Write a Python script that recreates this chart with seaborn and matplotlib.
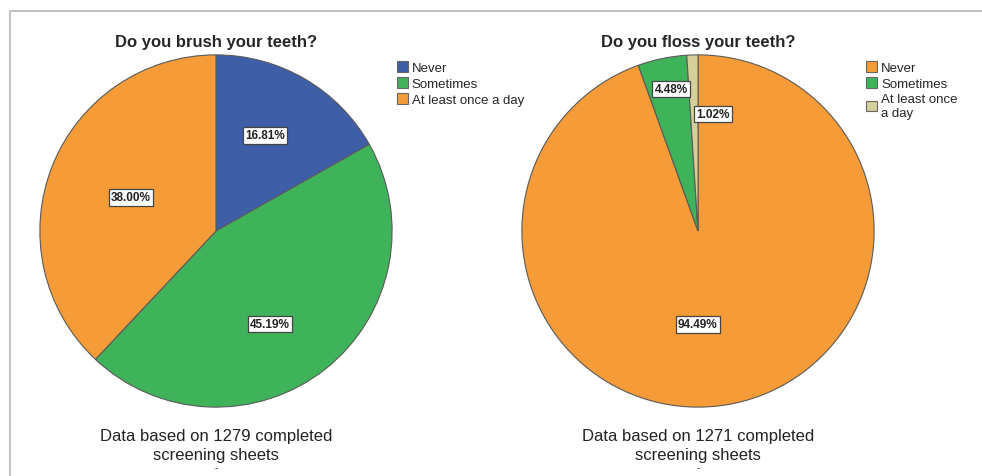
import numpy as np
import matplotlib.pyplot as plt
import seaborn as sns
from matplotlib.lines import Line2D

sns.set_style('white')
plt.rcParams['font.family'] = ['Liberation Sans', 'DejaVu Sans']

# data
categories = ['Never', 'Sometimes', 'At least once a day']
brush_pct = [16.81, 45.19, 38.00]
floss_pct = [94.49, 4.48, 1.02]
brush_colors = ['#3f5ea8', '#3fb35a', '#f59b37']
floss_colors = ['#f59b37', '#3fb35a', '#d5d09a']
titles = ['Do you brush your teeth?', 'Do you floss your teeth?']
notes = ['Data based on 1279 completed\nscreening sheets',
         'Data based on 1271 completed\nscreening sheets']
floss_legend = ['Never', 'Sometimes', 'At least once\na day']

# label placement (radial fraction, angle shift in degrees)
brush_lbl = [(0.61, 3), (0.61, -8), (0.52, 0)]
floss_lbl = [(0.53, -10), (0.82, -1), (0.67, -9)]


def draw_pie(ax, values, colors, lbl_pos, title, note, leg_labels, leg_x):
    wedges, _ = ax.pie(values, colors=colors, startangle=90, counterclock=False,
                       radius=1, wedgeprops=dict(edgecolor='#5a5a5a', linewidth=0.8))
    for w, v, (r, shift) in zip(wedges, values, lbl_pos):
        ang = np.deg2rad((w.theta1 + w.theta2) / 2 + shift)
        ax.text(r * np.cos(ang), r * np.sin(ang), f'{v:.2f}%', ha='center', va='center',
                fontsize=8.5, fontweight='bold', color='#222222',
                bbox=dict(boxstyle='square,pad=0.2', fc='white', ec='#444444', lw=0.9))
    ax.set_xlim(-1.005, 1.005)
    ax.set_ylim(-1.005, 1.005)
    ax.set_aspect('equal')
    ax.set_title(title, fontsize=12, fontweight='bold', pad=6)
    ax.text(0, -1.12, note, ha='center', va='top', fontsize=12,
            linespacing=1.35, color='#222222')
    ax.text(0, -1.31, '-', ha='center', va='top', fontsize=7, color='#333333')
    ax.legend(wedges, leg_labels, loc='upper left', bbox_to_anchor=(leg_x, 0.995),
              frameon=False, fontsize=9.5, handlelength=0.85, handleheight=0.85,
              handletextpad=0.3, labelspacing=0.25, borderaxespad=0)
    for h in ax.get_legend().legend_handles:
        h.set_edgecolor('#666666')


fig = plt.figure(figsize=[9.82, 4.77], dpi=100)
ax1 = fig.add_axes([39 / 982, 68 / 477, 354 / 982, 354 / 477])
ax2 = fig.add_axes([521 / 982, 68 / 477, 354 / 982, 354 / 477])
for ax in (ax1, ax2):
    ax.axis('off')

draw_pie(ax1, brush_pct, brush_colors, brush_lbl, titles[0], notes[0], categories, 0.995)
draw_pie(ax2, floss_pct, floss_colors, floss_lbl, titles[1], notes[1], floss_legend, 0.96)

# outer frame
fig.add_artist(Line2D([10 / 982, 1], [1 - 12 / 477, 1 - 12 / 477], color='#c4c4c4', lw=1.5))
fig.add_artist(Line2D([10 / 982, 10 / 982], [0, 1 - 12 / 477], color='#c4c4c4', lw=1.5))

plt.savefig('out.png', dpi=100)
